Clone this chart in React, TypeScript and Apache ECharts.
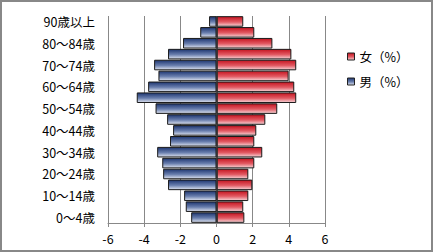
import React, { useEffect, useRef } from "react";
import * as echarts from "echarts";

const categories = [
  "0～4歳", "5～9歳", "10～14歳", "15～19歳", "20～24歳", "25～29歳", "30～34歳",
  "35～39歳", "40～44歳", "45～49歳", "50～54歳", "55～59歳", "60～64歳", "65～69歳",
  "70～74歳", "75～79歳", "80～84歳", "85～89歳", "90歳以上",
];
const femaleValues = [1.54, 1.48, 1.76, 1.98, 1.76, 2.09, 2.53, 2.09, 2.2, 2.7, 3.36, 4.41, 4.3, 3.99, 4.41, 4.14, 3.09, 2.09, 1.48];
const maleValues = [-1.4, -1.7, -1.79, -2.68, -2.95, -3.0, -3.28, -2.57, -2.4, -2.73, -3.37, -4.41, -3.78, -3.21, -3.45, -2.68, -1.85, -0.9, -0.41];
const xTicks = { min: -6, max: 6, interval: 2 };
const femaleName = "女（%）";
const maleName = "男（%）";

const grad = (top: string, mid: string, bottom: string) =>
  new echarts.graphic.LinearGradient(0, 0, 0, 1, [
    { offset: 0, color: top },
    { offset: 0.55, color: mid },
    { offset: 1, color: bottom },
  ]);

export default function App() {
  const ref = useRef<HTMLDivElement>(null);
  useEffect(() => {
    if (!ref.current) return;
    const chart = echarts.init(ref.current, undefined, { renderer: "svg" });
    const font = "'Noto Sans CJK JP', sans-serif";
    const femaleColor = grad("#c41420", "#e25a63", "#f7d6d9");
    const maleColor = grad("#1d3570", "#6a7fae", "#e0e5f1");
    chart.setOption({
      animation: false,
      textStyle: { fontFamily: font },
      graphic: [
        {
          type: "rect",
          shape: { x: 1, y: 1, width: 431, height: 250 },
          style: { fill: "none", stroke: "#888", lineWidth: 2 },
          silent: true,
        },
      ],
      legend: {
        orient: "vertical",
        left: 342,
        top: 45,
        itemWidth: 7,
        itemHeight: 7,
        itemGap: 12,
        icon: "rect",
        textStyle: { fontSize: 12.5, color: "#000", fontFamily: font, lineHeight: 13 },
        data: [
          { name: femaleName, itemStyle: { color: femaleColor, borderColor: "#222", borderWidth: 1 } },
          { name: maleName, itemStyle: { color: maleColor, borderColor: "#222", borderWidth: 1 } },
        ],
      },
      grid: { left: 108, right: 108, top: 16, bottom: 29, containLabel: false },
      xAxis: {
        type: "value",
        min: xTicks.min,
        max: xTicks.max,
        interval: xTicks.interval,
        axisLine: { show: true, lineStyle: { color: "#888", width: 1 } },
        axisTick: { show: true, length: 4, lineStyle: { color: "#888" } },
        splitLine: { show: true, lineStyle: { color: "#888", width: 1 } },
        axisLabel: { fontSize: 12.5, color: "#000", margin: 9, fontFamily: font },
      },
      yAxis: {
        type: "category",
        data: categories,
        axisLine: { show: false },
        axisTick: { show: false },
        axisLabel: { interval: 1, fontSize: 12.5, color: "#000", margin: 13, fontFamily: font },
      },
      series: [
        {
          name: femaleName,
          type: "bar",
          stack: "pop",
          data: femaleValues,
          barCategoryGap: "3%",
          itemStyle: { color: femaleColor, borderColor: "#1a1a1a", borderWidth: 1 },
          markLine: {
            silent: true,
            symbol: "none",
            label: { show: false },
            lineStyle: { color: "#333", type: "solid", width: 1.5 },
            data: [{ xAxis: 0 }],
            z: 10,
          },
        },
        {
          name: maleName,
          type: "bar",
          stack: "pop",
          data: maleValues,
          barCategoryGap: "3%",
          itemStyle: { color: maleColor, borderColor: "#1a1a1a", borderWidth: 1 },
        },
      ],
    });
    return () => chart.dispose();
  }, []);
  return (
    <div
      ref={ref}
      style={{ position: "fixed", left: 0, top: 0, width: 433, height: 252, background: "#fff" }}
    />
  );
}
